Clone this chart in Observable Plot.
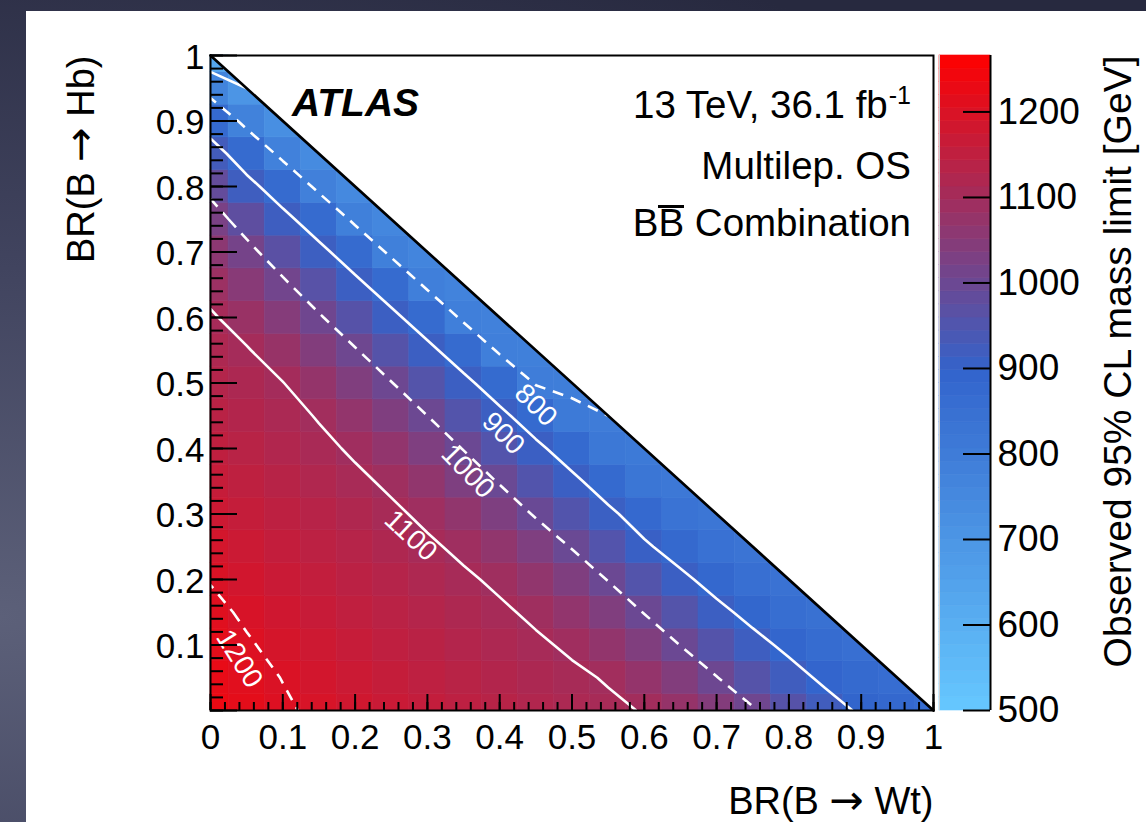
<!DOCTYPE html>
<html>
<head>
<meta charset="utf-8">
<script src="https://cdn.jsdelivr.net/npm/d3@7"></script>
<script src="https://cdn.jsdelivr.net/npm/@observablehq/plot@0.6"></script>
<style>
  html, body { margin: 0; padding: 0; }
  body {
    width: 1146px; height: 822px; overflow: hidden; position: relative;
    background: radial-gradient(ellipse at 0% 75%, #5c6079 0%, #41445f 40%, #27293f 85%);
    font-family: "Liberation Sans", Arimo, Arial, Helvetica, sans-serif;
  }
  #panel { position: absolute; left: 26px; top: 11px; right: 0; bottom: 0; background: #fff; }
  .layer { position: absolute; left: 0; top: 0; }
  .note { position: absolute; color: #000; font-size: 38.5px; line-height: 1; white-space: nowrap; }
  .note.r { right: 235px; text-align: right; }
  .bar { display: inline-block; border-top: 3px solid #000; line-height: 0.8em; }
  .sup { font-size: 25px; position: relative; top: -14px; margin-left: 1px; }
</style>
</head>
<body>
<div id="panel"></div>
<div id="main" class="layer"></div>
<div id="scale" class="layer"></div>
<div class="note" style="left:292px; top:83px; font-size:39px; font-weight:bold; font-style:italic;">ATLAS</div>
<div class="note r" style="top:86px;">13 TeV, 36.1 fb<span class="sup">-1</span></div>
<div class="note r" style="top:147px;">Multilep. OS</div>
<div class="note r" style="top:204px;">B<span class="bar">B</span> Combination</div>
<script>
// Grid points of the branching-ratio scan (both axes)
const brPoints = [0, 0.05, 0.1, 0.15, 0.2, 0.25, 0.3, 0.35, 0.4, 0.45, 0.5,
                  0.55, 0.6, 0.65, 0.7, 0.75, 0.8, 0.85, 0.9, 0.95, 1];

// Observed 95% CL lower mass limit [GeV]; one row per BR(B -> Hb) point,
// each row running over BR(B -> Wt) from 0 up to the BR sum of 1
const limitRows = [
  [1232, 1218, 1205, 1193, 1180, 1168, 1157, 1146, 1136, 1125, 1115, 1107, 1098, 1075, 1042, 1006, 960, 922, 893, 880, 865],
  [1225, 1212, 1199, 1185, 1171, 1160, 1148, 1138, 1127, 1116, 1107, 1097, 1072, 1040, 1002, 958, 920, 890, 870, 858],
  [1218, 1204, 1189, 1175, 1162, 1150, 1140, 1128, 1117, 1106, 1094, 1069, 1037, 999, 957, 917, 888, 864, 852],
  [1210, 1194, 1179, 1165, 1152, 1141, 1130, 1118, 1106, 1093, 1068, 1036, 998, 956, 914, 884, 857, 845],
  [1198, 1183, 1168, 1155, 1143, 1132, 1119, 1106, 1093, 1067, 1035, 998, 955, 912, 880, 850, 838],
  [1186, 1171, 1157, 1145, 1133, 1120, 1106, 1092, 1067, 1034, 997, 954, 908, 876, 843, 830],
  [1174, 1160, 1147, 1135, 1122, 1107, 1092, 1067, 1033, 995, 953, 911, 874, 835, 822],
  [1162, 1149, 1136, 1123, 1108, 1093, 1067, 1033, 996, 953, 912, 872, 825, 815],
  [1151, 1138, 1125, 1110, 1094, 1068, 1034, 998, 954, 912, 872, 816, 808],
  [1140, 1127, 1114, 1097, 1070, 1035, 1000, 955, 913, 870, 808, 800],
  [1129, 1116, 1101, 1073, 1037, 1002, 956, 914, 869, 795, 793],
  [1118, 1103, 1078, 1040, 1004, 958, 914, 868, 790, 786],
  [1105, 1082, 1045, 1006, 960, 914, 868, 788, 779],
  [1086, 1050, 1010, 963, 914, 868, 787, 772],
  [1058, 1016, 968, 915, 868, 786, 765],
  [1025, 975, 916, 868, 785, 758],
  [985, 918, 868, 783, 750],
  [926, 868, 781, 740],
  [870, 778, 725],
  [770, 700],
  [630]
];

// Contour levels: solid and dashed alternate
const solidLevels = [700, 900, 1100];
const dashedLevels = [800, 1000, 1200];

// Contour label anchors (in BR coordinates)
const contourLabels = [
  {level: 800, wt: 0.450, hb: 0.466},
  {level: 900, wt: 0.405, hb: 0.423},
  {level: 1000, wt: 0.356, hb: 0.365},
  {level: 1100, wt: 0.277, hb: 0.267},
  {level: 1200, wt: 0.040, hb: 0.079}
];
const labelAngle = {800: 45, 900: 45, 1000: 46, 1100: 43, 1200: 58};

// Axis ticks
const xTickLabels = [0, 0.1, 0.2, 0.3, 0.4, 0.5, 0.6, 0.7, 0.8, 0.9, 1];
const yTickLabels = [0.1, 0.2, 0.3, 0.4, 0.5, 0.6, 0.7, 0.8, 0.9, 1];
const zTicks = [500, 600, 700, 800, 900, 1000, 1100, 1200];
const zRange = [500, 1266];

const xTitle = "BR(B \u2192 Wt)";
const yTitle = "BR(B \u2192 Hb)";
const zTitle = "Observed 95% CL mass limit [GeV]";

// ---- layout ----
const W = 1146, H = 822;
const FONT = "'Liberation Sans', Arimo, Arial, Helvetica, sans-serif";
const frame = {left: 210, top: 55, right: 933, bottom: 710};
const plotW = frame.right - frame.left;
const plotH = frame.bottom - frame.top;
const half = 0.025;

const colorScale = {
  type: "linear",
  domain: [zRange[0], 895, zRange[1]],
  range: ["#66c8ff", "#3264cc", "#ff0000"],
  interpolate: "rgb"
};

// one record per scan point, for the coloured bins
const cells = limitRows.flatMap((row, j) =>
  row.map((v, i) => ({wt: brPoints[i], hb: brPoints[j], v})));

// the same scan as a dense row-major grid (forbidden points left empty)
const n = brPoints.length;
const limitGrid = brPoints.flatMap((_, j) =>
  brPoints.map((_, i) => (i < limitRows[j].length ? limitRows[j][i] : NaN)));
const gridBounds = {width: n, height: n, x1: -half, x2: 1 + half, y1: -half, y2: 1 + half};

const minorTicks = d3.ticks(0, 1, 50);
const fmt = d3.format("~g");

// Draw the arrow of the axis titles with a font whose arrow is long
function widenArrows(svg, size) {
  d3.select(svg).selectAll("text").each(function() {
    const t = this.textContent;
    if (!t.includes("\u2192")) return;
    const [a, b] = t.split("\u2192");
    const sel = d3.select(this).text(null);
    sel.append("tspan").text(a);
    sel.append("tspan").style("font-family", "'DejaVu Sans'").style("font-size", size + "px").text("\u2192");
    sel.append("tspan").text(b);
  });
}

const main = Plot.plot({
  width: W, height: H,
  marginLeft: frame.left, marginTop: frame.top,
  marginRight: W - frame.right, marginBottom: H - frame.bottom,
  style: {background: "transparent", fontFamily: FONT, fontSize: "35px", color: "black", overflow: "visible"},
  x: {domain: [0, 1], axis: null},
  y: {domain: [0, 1], axis: null},
  color: colorScale,
  marks: [
    Plot.rect(cells, {
      x1: d => Math.max(0, d.wt - half), x2: d => Math.min(1, d.wt + half),
      y1: d => Math.max(0, d.hb - half), y2: d => Math.min(1, d.hb + half),
      fill: "v", stroke: "v", strokeWidth: 0.6
    }),
    Plot.contour(limitGrid, {
      ...gridBounds, value: d => d, thresholds: solidLevels, clip: true,
      fill: "none", stroke: "white", strokeWidth: 2.6
    }),
    Plot.contour(limitGrid, {
      ...gridBounds, value: d => d, thresholds: dashedLevels, clip: true,
      fill: "none", stroke: "white", strokeWidth: 2.6, strokeDasharray: "11,8"
    }),
    Plot.text(contourLabels, {
      x: "wt", y: "hb", text: d => String(d.level), rotate: d => labelAngle[d.level],
      fill: "white", fontSize: 28
    }),
    // kinematically forbidden region BR(Wt) + BR(Hb) > 1
    Plot.areaY([0, 1], {x: d => d, y1: d => 1 - d, y2: 1, fill: "white"}),
    Plot.line([0, 1], {x: d => d, y: d => 1 - d, stroke: "black", strokeWidth: 2.7}),
    Plot.tickX(minorTicks, {x: d => d, insetTop: plotH - 8, stroke: "black", strokeWidth: 2}),
    Plot.tickX(xTickLabels, {x: d => d, insetTop: plotH - 16, stroke: "black", strokeWidth: 2}),
    Plot.tickY(minorTicks, {y: d => d, insetRight: plotW - 13, stroke: "black", strokeWidth: 2}),
    Plot.tickY(xTickLabels, {y: d => d, insetRight: plotW - 27, stroke: "black", strokeWidth: 2}),
    Plot.frame({stroke: "black", strokeWidth: 2}),
    Plot.axisX(xTickLabels, {anchor: "bottom", tickSize: 0, tickPadding: 14, tickFormat: fmt, fontSize: 35, label: null}),
    Plot.axisY(yTickLabels, {anchor: "left", tickSize: 0, tickPadding: 6, tickFormat: fmt, fontSize: 35, dy: 2, label: null}),
    Plot.text([xTitle], {frameAnchor: "bottom-right", dy: 103, textAnchor: "end", lineAnchor: "bottom", fontSize: 38}),
    Plot.text([yTitle], {frameAnchor: "top-left", dx: -117, rotate: -90, textAnchor: "end", lineAnchor: "bottom", fontSize: 38})
  ]
});
widenArrows(main, 41);
document.getElementById("main").append(main);

// ---- colour scale bar ----
const bar = {left: 939, right: 990};
const nBands = 50;
const bandStep = (zRange[1] - zRange[0]) / nBands;
const bands = d3.range(nBands).map(k => ({
  lo: zRange[0] + k * bandStep,
  hi: zRange[0] + (k + 1) * bandStep,
  mid: zRange[0] + (k + 0.5) * bandStep
}));

const scaleBar = Plot.plot({
  width: W, height: H,
  marginLeft: bar.left, marginRight: W - bar.right,
  marginTop: frame.top, marginBottom: H - frame.bottom,
  style: {background: "transparent", fontFamily: FONT, fontSize: "37px", color: "black", overflow: "visible"},
  x: {domain: [0, 1], axis: null},
  y: {domain: zRange, axis: null},
  color: colorScale,
  marks: [
    Plot.rect(bands, {x1: 0, x2: 1, y1: "lo", y2: "hi", fill: "mid", stroke: "mid", strokeWidth: 0.6}),
    Plot.ruleX([0], {stroke: "#d0d0d0", strokeWidth: 1}),
    Plot.tickY(zTicks, {y: d => d, insetLeft: (bar.right - bar.left) - 27, stroke: "black", strokeWidth: 2}),
    Plot.ruleX([1], {stroke: "black", strokeWidth: 2}),
    Plot.axisY(zTicks, {anchor: "right", tickSize: 0, tickPadding: 7, tickFormat: d3.format("d"), fontSize: 37, label: null}),
    Plot.text([zTitle], {frameAnchor: "top-right", dx: 140, rotate: -90, textAnchor: "end", lineAnchor: "bottom", fontSize: 39})
  ]
});
document.getElementById("scale").append(scaleBar);
</script>
</body>
</html>
